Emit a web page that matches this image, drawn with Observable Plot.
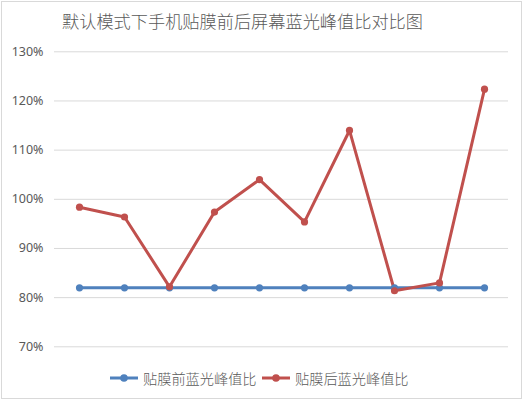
<!DOCTYPE html>
<html><head><meta charset="utf-8">
<script src="https://cdn.jsdelivr.net/npm/d3@7"></script>
<script src="https://cdn.jsdelivr.net/npm/@observablehq/plot@0.6"></script>
<style>
html,body{margin:0;padding:0;background:#fff;}
#wrap{position:relative;width:526px;height:402px;overflow:hidden;font-family:"Noto Sans CJK SC","Noto Sans",sans-serif;}
#frame{position:absolute;left:1px;top:1px;width:521px;height:398px;border:1px solid #d9d9d9;box-sizing:border-box;}
#title{position:absolute;left:62px;top:7px;font-size:17.2px;font-weight:300;color:#595959;white-space:nowrap;line-height:27px;}
#plot{position:absolute;left:0;top:36px;}
#legend{position:absolute;left:0;top:366px;width:526px;height:24px;}
.item{position:absolute;top:0;height:24px;display:flex;align-items:center;font-size:14.2px;font-weight:300;color:#595959;white-space:nowrap;}
.item svg{margin-right:5px;}
</style></head>
<body><div id="wrap"><div id="frame"></div><div id="title"></div><div id="plot"></div><div id="legend"></div></div>
<script>
const titleText = "默认模式下手机贴膜前后屏幕蓝光峰值比对比图";
const categories = [1,2,3,4,5,6,7,8,9,10];
const seriesNames = ["贴膜前蓝光峰值比","贴膜后蓝光峰值比"];
const beforeValues = [82,82,82,82,82,82,82,82,82,82];
const afterValues = [98.4,96.4,82.2,97.4,104.0,95.4,114.0,81.4,83.0,122.4];
const yTicks = [70,80,90,100,110,120,130];
const colors = ["#4F81BD","#C0504D"];

document.getElementById("title").textContent = titleText;

const data = [];
categories.forEach((c,i)=>{
  data.push({x:c, y:beforeValues[i], s:seriesNames[0]});
  data.push({x:c, y:afterValues[i], s:seriesNames[1]});
});

const chart = Plot.plot({
  width: 526,
  height: 320,
  marginTop: 15.3,
  marginBottom: 9.7,
  marginLeft: 54,
  marginRight: 18,
  style: {fontFamily: "'Noto Sans', sans-serif", fontSize: "12.5px", color: "#595959", background: "transparent"},
  x: {type: "point", domain: categories, padding: 0.5, axis: null},
  y: {domain: [70,130], ticks: yTicks, tickFormat: d => d + "%", tickSize: 0, tickPadding: 11, label: null},
  color: {domain: seriesNames, range: colors},
  marks: [
    Plot.ruleY(yTicks, {stroke: "#d9d9d9", strokeWidth: 1, strokeOpacity: 1}),
    Plot.axisY({ticks: yTicks, tickFormat: d => d + "%", tickSize: 0, tickPadding: 11, label: null, fill: "#595959"}),
    Plot.line(data, {x: "x", y: "y", z: "s", stroke: "s", strokeWidth: 3, strokeLinejoin: "round", strokeLinecap: "round"}),
    Plot.dot(data, {x: "x", y: "y", fill: "s", r: 3.6, stroke: null})
  ]
});
document.getElementById("plot").appendChild(chart);

const legend = document.getElementById("legend");
const lefts = [110, 262];
seriesNames.forEach((name,i)=>{
  const d = document.createElement("div");
  d.className = "item";
  d.style.left = lefts[i] + "px";
  d.innerHTML = `<svg width="28" height="10"><line x1="0" y1="5" x2="28" y2="5" stroke="${colors[i]}" stroke-width="3"/><circle cx="14" cy="5" r="3.8" fill="${colors[i]}"/></svg>`;
  const t = document.createElement("span");
  t.textContent = name;
  d.appendChild(t);
  legend.appendChild(d);
});
</script></body></html>
